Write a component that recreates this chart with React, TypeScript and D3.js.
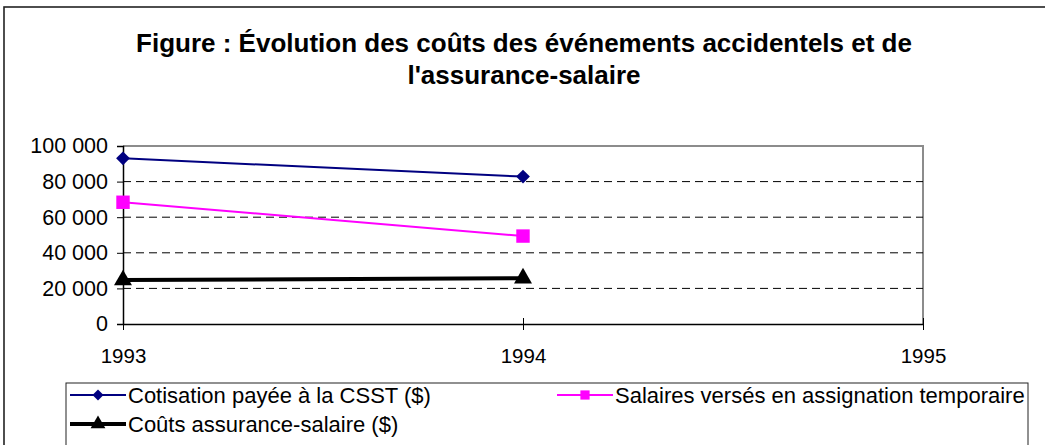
import React, { useEffect, useRef } from "react";
import * as d3 from "d3";

const years = ["1993", "1994", "1995"];
const cotisation = [93100, 82800];
const salaires = [68400, 49400];
const assurance = [24700, 25700];
const yTicks = [0, 20000, 40000, 60000, 80000, 100000];
const seriesNames = [
  "Cotisation payée à la CSST ($)",
  "Salaires versés en assignation temporaire",
  "Coûts assurance-salaire ($)",
];
const titleLines = [
  "Figure : Évolution des coûts des événements accidentels et de",
  "l'assurance-salaire",
];

const FONT = "'Liberation Sans', Arial, sans-serif";

const App = () => {
  const svgRef = useRef<SVGSVGElement>(null);

  useEffect(() => {
    const width = 1045;
    const height = 445;
    const plot = { left: 123, right: 923, top: 146, bottom: 324 };

    const svg = d3.select(svgRef.current);
    svg.selectAll("*").remove();

    const fmt = d3.formatLocale({ decimal: ",", thousands: " ", grouping: [3], currency: ["", " $"] }).format(",");

    const x = d3.scalePoint().domain(years).range([plot.left, plot.right]);
    const y = d3.scaleLinear().domain([0, 100000]).range([plot.bottom, plot.top]);

    // outer chart frame (right and bottom fall outside the picture)
    svg
      .append("rect")
      .attr("x", 4)
      .attr("y", 7)
      .attr("width", width + 20)
      .attr("height", height + 20)
      .attr("fill", "white")
      .attr("stroke", "#222")
      .attr("stroke-width", 1.6);

    // title
    svg
      .append("text")
      .attr("text-anchor", "middle")
      .attr("font-family", FONT)
      .attr("font-weight", "bold")
      .attr("font-size", 26)
      .selectAll("tspan")
      .data(titleLines)
      .join("tspan")
      .attr("x", 524)
      .attr("y", (d, i) => 52 + i * 32)
      .text((d) => d);

    // plot frame (top/right grey)
    svg
      .append("path")
      .attr("d", `M${plot.left},${plot.top}H${plot.right}V${plot.bottom}`)
      .attr("fill", "none")
      .attr("stroke", "#8c8c8c")
      .attr("stroke-width", 2);

    // dashed gridlines
    svg
      .append("g")
      .selectAll("line")
      .data(yTicks.filter((t) => t > 0 && t < 100000))
      .join("line")
      .attr("x1", plot.left)
      .attr("x2", plot.right)
      .attr("y1", (d) => y(d))
      .attr("y2", (d) => y(d))
      .attr("stroke", "#000")
      .attr("stroke-width", 1)
      .attr("stroke-dasharray", "8,5");

    // y axis
    const yAxis = svg
      .append("g")
      .attr("transform", `translate(${plot.left},0)`)
      .call(d3.axisLeft(y).tickValues(yTicks).tickFormat((d) => fmt(d as number)).tickSize(6).tickPadding(9));
    yAxis.select(".domain").attr("stroke", "#000").attr("stroke-width", 1.5);
    yAxis.selectAll("text").attr("font-family", FONT).attr("font-size", 21.5).attr("fill", "#000");

    // x axis (ticks cross the axis)
    const xAxis = svg
      .append("g")
      .attr("transform", `translate(0,${plot.bottom})`)
      .call(d3.axisBottom(x).tickSize(6).tickSizeOuter(0).tickPadding(18));
    xAxis.select(".domain").attr("stroke", "#000").attr("stroke-width", 1.5);
    xAxis.selectAll(".tick line").attr("y1", -6).attr("y2", 6).attr("stroke", "#000");
    xAxis.selectAll("text").attr("font-family", FONT).attr("font-size", 20.5).attr("fill", "#000");

    const diamond = d3.symbol(d3.symbolSquare, 95);
    const square = d3.symbol(d3.symbolSquare, 180);
    const triangle = d3.symbol(d3.symbolTriangle, 140);

    const series = [
      { name: seriesNames[0], values: cotisation, color: "#000080", width: 2, shape: diamond, rot: 45, legendShape: d3.symbol(d3.symbolSquare, 60) },
      { name: seriesNames[1], values: salaires, color: "#ff00ff", width: 2, shape: square, rot: 0, legendShape: d3.symbol(d3.symbolSquare, 85) },
      { name: seriesNames[2], values: assurance, color: "#000", width: 4, shape: triangle, rot: 0, legendShape: d3.symbol(d3.symbolTriangle, 95) },
    ];

    const line = d3
      .line<number>()
      .x((d, i) => x(years[i]) as number)
      .y((d) => y(d));

    series.forEach((s) => {
      const g = svg.append("g");
      g.append("path")
        .attr("d", line(s.values))
        .attr("fill", "none")
        .attr("stroke", s.color)
        .attr("stroke-width", s.width);
      g.selectAll("path.marker")
        .data(s.values)
        .join("path")
        .attr("class", "marker")
        .attr("transform", (d, i) => `translate(${x(years[i])},${y(d)}) rotate(${s.rot})`)
        .attr("d", s.shape())
        .attr("fill", s.color);
    });

    // legend
    const legend = svg.append("g");
    legend
      .append("rect")
      .attr("x", 66)
      .attr("y", 383)
      .attr("width", 962)
      .attr("height", 80)
      .attr("fill", "white")
      .attr("stroke", "#222")
      .attr("stroke-width", 1);

    const legendPos = [
      { x: 70, y: 395 },
      { x: 557, y: 395 },
      { x: 70, y: 424 },
    ];
    series.forEach((s, i) => {
      const p = legendPos[i];
      const item = legend.append("g").attr("transform", `translate(${p.x},${p.y})`);
      item
        .append("line")
        .attr("x1", 0)
        .attr("x2", 56)
        .attr("stroke", s.color)
        .attr("stroke-width", s.width);
      item
        .append("path")
        .attr("transform", `translate(28,0) rotate(${s.rot})`)
        .attr("d", s.legendShape())
        .attr("fill", s.color);
      item
        .append("text")
        .attr("x", 58)
        .attr("dy", "0.35em")
        .attr("font-family", FONT)
        .attr("font-size", 22)
        .text(s.name);
    });
  }, []);

  return (
    <svg
      ref={svgRef}
      width={1045}
      height={445}
      style={{ position: "absolute", left: 0, top: 0, background: "white" }}
    />
  );
};

export default App;
